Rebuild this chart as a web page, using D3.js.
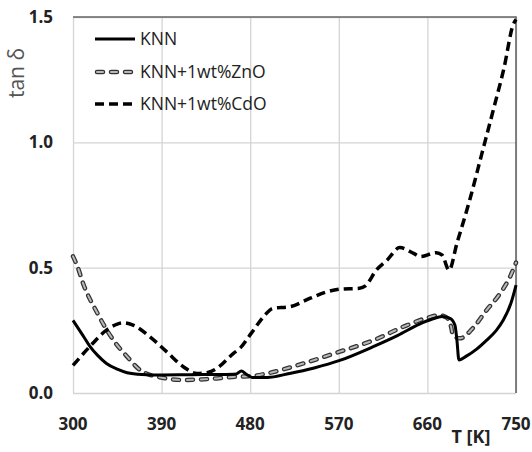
<!DOCTYPE html>
<html>
<head>
<meta charset="utf-8">
<script src="https://cdn.jsdelivr.net/npm/d3@7"></script>
<style>
  body { margin: 0; background: #fff; }
  svg { display: block; font-family: "Open Sans", sans-serif; }
</style>
</head>
<body>
<script>
// temperature (K) and tan delta
const knnT = [300, 310, 317, 325, 334, 345, 355, 370, 390, 420, 450, 466, 471, 476, 482, 497, 520, 545, 571, 605, 630, 652, 665, 675, 683, 688, 690, 692, 700, 710, 720, 730, 737, 745, 750];
const knnV = [0.29, 0.23, 0.187, 0.15, 0.118, 0.095, 0.081, 0.074, 0.072, 0.073, 0.074, 0.076, 0.088, 0.075, 0.062, 0.062, 0.078, 0.1, 0.13, 0.185, 0.23, 0.275, 0.295, 0.305, 0.298, 0.27, 0.21, 0.132, 0.148, 0.175, 0.21, 0.25, 0.29, 0.36, 0.43];

const znoT = [300, 305, 310, 324, 341, 355, 368, 388, 412, 446, 466, 483, 497, 534, 571, 605, 639, 660, 672, 680, 684, 686, 693, 706, 720, 734, 744, 750];
const znoV = [0.545, 0.5, 0.44, 0.324, 0.211, 0.145, 0.092, 0.063, 0.052, 0.058, 0.065, 0.068, 0.078, 0.118, 0.165, 0.21, 0.27, 0.3, 0.31, 0.3, 0.265, 0.23, 0.218, 0.258, 0.33, 0.398, 0.464, 0.52];

const cdoT = [300, 317, 334, 345, 351, 361, 378, 395, 412, 426, 437, 446, 463, 470, 481, 495, 503, 520, 541, 558, 571, 591, 597, 608, 619, 632, 646, 653, 669, 675, 682, 690, 703, 715, 727, 738, 747, 750];
const cdoV = [0.11, 0.185, 0.251, 0.275, 0.28, 0.271, 0.225, 0.165, 0.105, 0.078, 0.082, 0.098, 0.158, 0.18, 0.238, 0.311, 0.338, 0.344, 0.378, 0.404, 0.414, 0.418, 0.427, 0.49, 0.53, 0.58, 0.557, 0.544, 0.56, 0.55, 0.49, 0.597, 0.77, 0.95, 1.13, 1.3, 1.468, 1.49];

const xTicks = [300, 390, 480, 570, 660, 750];
const yTicks = [0, 0.5, 1.0, 1.5];
const seriesNames = ["KNN", "KNN+1wt%ZnO", "KNN+1wt%CdO"];

const width = 532, height = 452;
const margin = { top: 17, right: 16, bottom: 59, left: 73 };

const svg = d3.select("body").append("svg")
  .attr("width", width)
  .attr("height", height);

const x = d3.scaleLinear().domain([300, 750]).range([margin.left, width - margin.right]);
const y = d3.scaleLinear().domain([0, 1.5]).range([height - margin.bottom, margin.top]);

// grid
svg.append("g")
  .attr("transform", `translate(0,${height - margin.bottom})`)
  .call(d3.axisBottom(x).tickValues(xTicks).tickSize(-(height - margin.top - margin.bottom)).tickFormat(""))
  .call(g => g.select(".domain").remove())
  .call(g => g.selectAll("line").attr("stroke", "#d4d4d4").attr("stroke-width", 1.3));

svg.append("g")
  .attr("transform", `translate(${margin.left},0)`)
  .call(d3.axisLeft(y).tickValues(yTicks).tickSize(-(width - margin.left - margin.right)).tickFormat(""))
  .call(g => g.select(".domain").remove())
  .call(g => g.selectAll("line").attr("stroke", "#d4d4d4").attr("stroke-width", 1.3));

// top and right borders are darker
svg.append("path")
  .attr("d", `M${x(300)},${y(1.5)}H${x(750)}V${y(0)}`)
  .attr("fill", "none")
  .attr("stroke", "#666")
  .attr("stroke-width", 1.6);

// tick labels
svg.append("g")
  .selectAll("text")
  .data(xTicks)
  .join("text")
  .attr("x", d => x(d))
  .attr("y", 430)
  .attr("text-anchor", "middle")
  .attr("font-size", 17)
  .attr("font-weight", "bold")
  .attr("fill", "#222")
  .text(d => d);

svg.append("g")
  .selectAll("text")
  .data(yTicks)
  .join("text")
  .attr("x", 53)
  .attr("y", d => y(d) + 6)
  .attr("text-anchor", "end")
  .attr("font-size", 17)
  .attr("font-weight", "bold")
  .attr("fill", "#222")
  .text(d3.format(".1f"));

svg.append("text")
  .attr("x", 471)
  .attr("y", 443)
  .attr("text-anchor", "middle")
  .attr("font-size", 18)
  .attr("font-weight", "bold")
  .attr("fill", "#222")
  .text("T [K]");

svg.append("text")
  .attr("transform", "translate(24,73) rotate(-90)")
  .attr("text-anchor", "middle")
  .attr("font-size", 21)
  .attr("fill", "#555")
  .text("tan δ");

// lines
const line = d3.line()
  .x(d => x(d[0]))
  .y(d => y(d[1]))
  .curve(d3.curveMonotoneX);

const knn = d3.zip(knnT, knnV);
const zno = d3.zip(znoT, znoV);
const cdo = d3.zip(cdoT, cdoV);

const plot = svg.append("g").attr("fill", "none");

plot.append("path")
  .attr("d", line(zno))
  .attr("stroke", "#333")
  .attr("stroke-width", 4.5)
  .attr("stroke-linecap", "round")
  .attr("stroke-dasharray", "6,8");
plot.append("path")
  .attr("d", line(zno))
  .attr("stroke", "#b8b8b8")
  .attr("stroke-width", 2)
  .attr("stroke-linecap", "round")
  .attr("stroke-dasharray", "6,8");

plot.append("path")
  .attr("d", line(knn))
  .attr("stroke", "#000")
  .attr("stroke-width", 3);

plot.append("path")
  .attr("d", line(cdo))
  .attr("stroke", "#000")
  .attr("stroke-width", 3.5)
  .attr("stroke-dasharray", "9,5");

// legend
const legendY = [39, 72, 104];
const legend = svg.append("g");

legend.append("line")
  .attr("x1", 95).attr("x2", 135)
  .attr("y1", legendY[0]).attr("y2", legendY[0])
  .attr("stroke", "#000").attr("stroke-width", 3);

legend.append("line")
  .attr("x1", 97).attr("x2", 135)
  .attr("y1", legendY[1]).attr("y2", legendY[1])
  .attr("stroke", "#333").attr("stroke-width", 4.5)
  .attr("stroke-linecap", "round").attr("stroke-dasharray", "6,8");
legend.append("line")
  .attr("x1", 97).attr("x2", 135)
  .attr("y1", legendY[1]).attr("y2", legendY[1])
  .attr("stroke", "#b8b8b8").attr("stroke-width", 2)
  .attr("stroke-linecap", "round").attr("stroke-dasharray", "6,8");

legend.append("line")
  .attr("x1", 95).attr("x2", 137)
  .attr("y1", legendY[2]).attr("y2", legendY[2])
  .attr("stroke", "#000").attr("stroke-width", 3.5)
  .attr("stroke-dasharray", "9,5");

legend.selectAll("text")
  .data(seriesNames)
  .join("text")
  .attr("x", 140)
  .attr("y", (d, i) => legendY[i] + 6)
  .attr("font-size", 17.5)
  .attr("fill", "#222")
  .text(d => d);
</script>
</body>
</html>
